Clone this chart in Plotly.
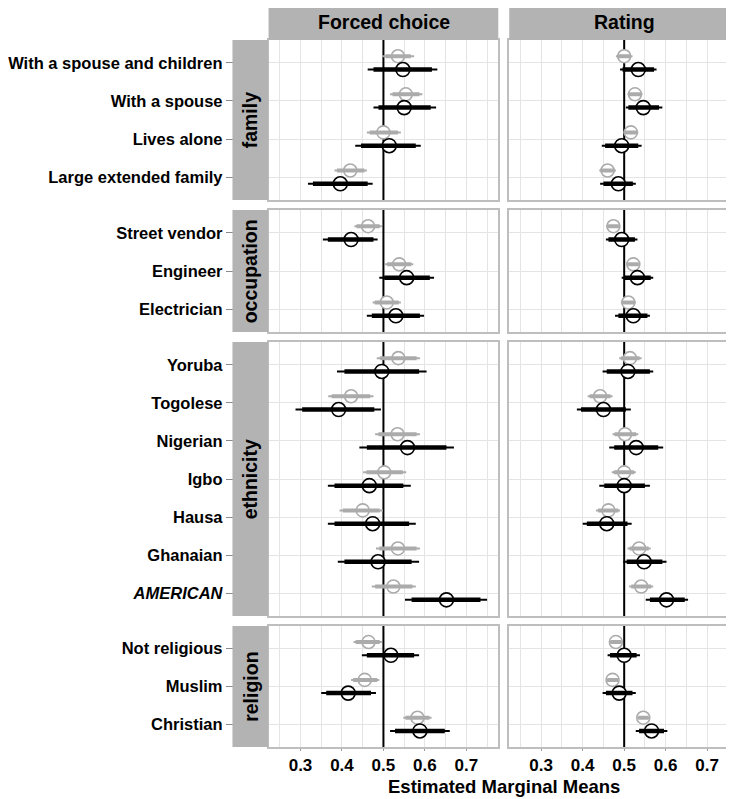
import plotly.graph_objects as go

# The page body has an 8px margin, so the figure is drawn 8px in from the
# window's top-left corner; geometry below is given in window pixels.
WIN_W, WIN_H = 734, 799
OFF = 8
W, H = WIN_W - OFF, WIN_H - OFF

# ---------------- data ----------------
facet_names = ["family", "occupation", "ethnicity", "religion"]
family_levels = ["With a spouse and children", "With a spouse", "Lives alone", "Large extended family"]
occupation_levels = ["Street vendor", "Engineer", "Electrician"]
ethnicity_levels = ["Yoruba", "Togolese", "Nigerian", "Igbo", "Hausa", "Ghanaian", "<i>AMERICAN</i>"]
religion_levels = ["Not religious", "Muslim", "Christian"]
panel_titles = ["Forced choice", "Rating"]
x_ticks = [0.3, 0.4, 0.5, 0.6, 0.7]
x_tick_labels = ["0.3", "0.4", "0.5", "0.6", "0.7"]
ref_value = 0.5

# Forced choice, gray series (estimate, 95% low/high, 90% low/high)
fc_gray_est = [0.535, 0.554, 0.500, 0.420, 0.463, 0.538, 0.508, 0.536, 0.422, 0.534, 0.502, 0.450, 0.535, 0.524, 0.464, 0.455, 0.582]
fc_gray_lo95 = [0.497, 0.516, 0.460, 0.382, 0.430, 0.504, 0.474, 0.484, 0.367, 0.480, 0.451, 0.394, 0.482, 0.472, 0.428, 0.422, 0.548]
fc_gray_hi95 = [0.574, 0.594, 0.542, 0.460, 0.496, 0.572, 0.542, 0.588, 0.476, 0.588, 0.555, 0.499, 0.588, 0.578, 0.496, 0.490, 0.616]
fc_gray_lo90 = [0.505, 0.522, 0.467, 0.388, 0.435, 0.509, 0.479, 0.492, 0.375, 0.488, 0.459, 0.402, 0.490, 0.480, 0.433, 0.427, 0.553]
fc_gray_hi90 = [0.566, 0.587, 0.535, 0.454, 0.491, 0.567, 0.537, 0.580, 0.468, 0.580, 0.547, 0.491, 0.580, 0.570, 0.491, 0.485, 0.611]

# Forced choice, black series
fc_black_est = [0.547, 0.550, 0.514, 0.396, 0.422, 0.556, 0.530, 0.496, 0.392, 0.558, 0.466, 0.474, 0.487, 0.652, 0.518, 0.415, 0.588]
fc_black_lo95 = [0.462, 0.476, 0.432, 0.318, 0.354, 0.490, 0.460, 0.388, 0.288, 0.442, 0.366, 0.366, 0.390, 0.552, 0.448, 0.350, 0.516]
fc_black_hi95 = [0.630, 0.627, 0.590, 0.474, 0.486, 0.622, 0.598, 0.604, 0.494, 0.670, 0.566, 0.578, 0.586, 0.750, 0.586, 0.482, 0.660]
fc_black_lo90 = [0.476, 0.488, 0.446, 0.330, 0.366, 0.502, 0.472, 0.406, 0.304, 0.460, 0.382, 0.382, 0.406, 0.568, 0.460, 0.362, 0.528]
fc_black_hi90 = [0.617, 0.614, 0.578, 0.462, 0.476, 0.612, 0.588, 0.586, 0.478, 0.652, 0.548, 0.562, 0.568, 0.734, 0.574, 0.470, 0.648]

# Rating, gray series
rt_gray_est = [0.500, 0.526, 0.516, 0.460, 0.474, 0.522, 0.510, 0.514, 0.442, 0.502, 0.500, 0.462, 0.536, 0.541, 0.480, 0.472, 0.546]
rt_gray_lo95 = [0.480, 0.508, 0.498, 0.440, 0.457, 0.505, 0.492, 0.488, 0.412, 0.472, 0.470, 0.432, 0.508, 0.512, 0.465, 0.457, 0.532]
rt_gray_hi95 = [0.520, 0.544, 0.534, 0.480, 0.490, 0.538, 0.528, 0.542, 0.472, 0.534, 0.528, 0.490, 0.564, 0.570, 0.495, 0.487, 0.561]
rt_gray_lo90 = [0.484, 0.511, 0.501, 0.443, 0.460, 0.508, 0.495, 0.492, 0.417, 0.477, 0.475, 0.437, 0.513, 0.517, 0.467, 0.459, 0.534]
rt_gray_hi90 = [0.516, 0.541, 0.531, 0.477, 0.487, 0.535, 0.525, 0.537, 0.467, 0.529, 0.524, 0.486, 0.559, 0.565, 0.493, 0.485, 0.559]

# Rating, black series
rt_black_est = [0.534, 0.546, 0.494, 0.486, 0.494, 0.532, 0.522, 0.509, 0.450, 0.529, 0.500, 0.458, 0.548, 0.602, 0.500, 0.488, 0.566]
rt_black_lo95 = [0.490, 0.504, 0.446, 0.442, 0.456, 0.494, 0.478, 0.448, 0.386, 0.464, 0.440, 0.400, 0.498, 0.552, 0.460, 0.448, 0.528]
rt_black_hi95 = [0.578, 0.592, 0.542, 0.528, 0.532, 0.570, 0.562, 0.570, 0.516, 0.594, 0.562, 0.518, 0.602, 0.654, 0.538, 0.528, 0.604]
rt_black_lo90 = [0.496, 0.510, 0.454, 0.450, 0.462, 0.500, 0.486, 0.458, 0.396, 0.476, 0.452, 0.410, 0.506, 0.562, 0.466, 0.456, 0.536]
rt_black_hi90 = [0.572, 0.584, 0.534, 0.521, 0.526, 0.564, 0.556, 0.562, 0.504, 0.582, 0.550, 0.508, 0.592, 0.646, 0.530, 0.520, 0.596]

# ---------------- styling / layout geometry (window pixels) ----------------
GRAY = "#ABABAB"
BLACK = "#000000"
STRIP = "#B3B3B3"
GRID = "#E4E4E4"
BORDER = "#BEBEBE"
FONT = "Liberation Sans, Arial, Helvetica, sans-serif"

row_px = [(40, 200), (210, 332), (342, 616), (626, 747)]
col_px = [(268, 499), (510, 742)]
col_range = [[0.223, 0.777], [0.223, 0.779]]
strip_top = (4, 40)
row_strip_x = (231.7, 267.6)
dodge = 0.175

levels_by_facet = [family_levels, occupation_levels, ethnicity_levels, religion_levels]
series_by_col = [
    [(fc_gray_est, fc_gray_lo95, fc_gray_hi95, fc_gray_lo90, fc_gray_hi90, GRAY, dodge, 13, 2, 4),
     (fc_black_est, fc_black_lo95, fc_black_hi95, fc_black_lo90, fc_black_hi90, BLACK, -dodge, 14, 2, 4.5)],
    [(rt_gray_est, rt_gray_lo95, rt_gray_hi95, rt_gray_lo90, rt_gray_hi90, GRAY, dodge, 13, 2, 4),
     (rt_black_est, rt_black_lo95, rt_black_hi95, rt_black_lo90, rt_black_hi90, BLACK, -dodge, 14, 2, 4.5)],
]


def px_x(p):
    return (p - OFF) / W


def px_y(p):
    return 1 - (p - OFF) / H


fig = go.Figure()
layout = {}
shapes = []
annotations = []

start = 0
for r, levels in enumerate(levels_by_facet):
    n = len(levels)
    positions = [n - j for j in range(n)]
    for c in range(2):
        k = r * 2 + c + 1
        xname = "x" if k == 1 else f"x{k}"
        yname = "y" if k == 1 else f"y{k}"
        xkey = "xaxis" if k == 1 else f"xaxis{k}"
        ykey = "yaxis" if k == 1 else f"yaxis{k}"
        bottom = r == len(levels_by_facet) - 1
        x0 = px_x(col_px[c][0])
        x1 = min(px_x(col_px[c][1]), 1.0)
        full = px_x(col_px[c][1]) - x0
        rng = [col_range[c][0], col_range[c][0] + (col_range[c][1] - col_range[c][0]) * (x1 - x0) / full]
        layout[xkey] = dict(
            domain=[x0, x1], range=rng, anchor=yname,
            tickvals=x_ticks, ticktext=x_tick_labels,
            showticklabels=bottom,
            ticks="outside" if bottom else "", ticklen=2, tickcolor="#9A9A9A", tickwidth=1,
            tickfont=dict(family=FONT, size=17, color="black", weight="bold"),
            showgrid=True, gridcolor=GRID, gridwidth=1,
            minor=dict(tick0=0.25, dtick=0.1, showgrid=True, gridcolor=GRID, gridwidth=1),
            showline=True, mirror=True, linecolor=BORDER, linewidth=1.5,
            zeroline=False, fixedrange=True,
        )
        layout[ykey] = dict(
            domain=[px_y(row_px[r][1]), px_y(row_px[r][0])],
            range=[0.4, n + 0.6], anchor=xname,
            tickvals=positions, ticktext=levels,
            showticklabels=(c == 0),
            ticks="outside" if c == 0 else "", ticklen=41, tickcolor="#8A8A8A", tickwidth=1,
            tickfont=dict(family=FONT, size=16.5, color="black", weight="bold"),
            showgrid=True, gridcolor=GRID, gridwidth=1,
            showline=True, mirror=True, linecolor=BORDER, linewidth=1.5,
            zeroline=False, fixedrange=True,
        )
        # reference line at 0.5 spanning the whole panel
        fig.add_trace(go.Scatter(
            x=[ref_value, ref_value], y=[0.4, n + 0.6], mode="lines",
            line=dict(color="black", width=2),
            xaxis=xname, yaxis=yname, showlegend=False, hoverinfo="skip"))

        for est, lo95, hi95, lo90, hi90, colr, off, msize, thin_w, thick_w in series_by_col[c]:
            idx = range(start, start + n)
            ys = [positions[j] + off for j in range(n)]
            # points (white filled circles, intervals drawn over them)
            fig.add_trace(go.Scatter(
                x=[est[i] for i in idx], y=ys, mode="markers",
                marker=dict(symbol="circle", size=msize, color="white",
                            line=dict(color=colr, width=1.6)),
                xaxis=xname, yaxis=yname, showlegend=False, hoverinfo="skip"))
            for lo, hi, wdt in ((lo95, hi95, thin_w), (lo90, hi90, thick_w)):
                xs, yy = [], []
                for j, i in enumerate(idx):
                    xs += [lo[i], hi[i], None]
                    yy += [ys[j], ys[j], None]
                fig.add_trace(go.Scatter(
                    x=xs, y=yy, mode="lines", line=dict(color=colr, width=wdt),
                    xaxis=xname, yaxis=yname, showlegend=False, hoverinfo="skip"))
    # row strip
    shapes.append(dict(type="rect", xref="paper", yref="paper",
                       x0=px_x(row_strip_x[0]), x1=px_x(row_strip_x[1]),
                       y0=px_y(row_px[r][1]), y1=px_y(row_px[r][0]),
                       fillcolor=STRIP, line=dict(width=0), layer="above"))
    annotations.append(dict(text=facet_names[r], xref="paper", yref="paper",
                            x=px_x((row_strip_x[0] + row_strip_x[1]) / 2),
                            y=px_y((row_px[r][0] + row_px[r][1]) / 2),
                            textangle=-90, showarrow=False, xanchor="center", yanchor="middle",
                            font=dict(family=FONT, size=19.5, color="black", weight="bold")))
    start += n

# column strips
title_x_px = [384, 626]
for c in range(2):
    x1 = min(px_x(col_px[c][1]), 1.0)
    shapes.append(dict(type="rect", xref="paper", yref="paper",
                       x0=px_x(col_px[c][0]), x1=x1,
                       y0=px_y(strip_top[1]), y1=px_y(strip_top[0]),
                       fillcolor=STRIP, line=dict(width=0), layer="above"))
    annotations.append(dict(text=panel_titles[c], xref="paper", yref="paper",
                            x=px_x(title_x_px[c]),
                            y=px_y((strip_top[0] + strip_top[1]) / 2),
                            showarrow=False, xanchor="center", yanchor="middle",
                            font=dict(family=FONT, size=19.5, color="black", weight="bold")))

# x-axis title
annotations.append(dict(text="Estimated Marginal Means", xref="paper", yref="paper",
                        x=px_x(505), y=px_y(786),
                        showarrow=False, xanchor="center", yanchor="middle",
                        font=dict(family=FONT, size=18.5, color="black", weight="bold")))

fig.update_layout(
    width=W, height=H, autosize=False,
    margin=dict(l=0, r=0, t=0, b=0),
    paper_bgcolor="white", plot_bgcolor="white",
    shapes=shapes, annotations=annotations,
    showlegend=False,
    **layout,
)

fig.write_html("out.html")
